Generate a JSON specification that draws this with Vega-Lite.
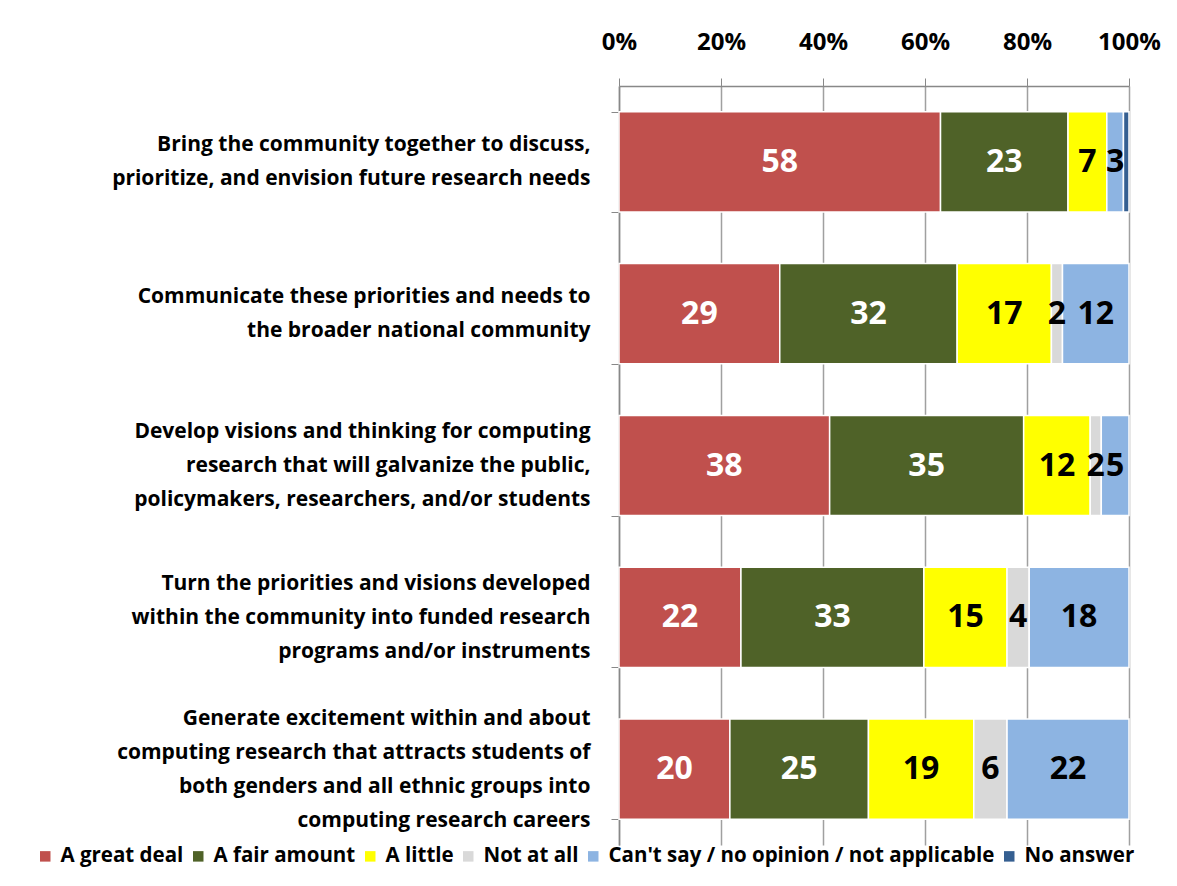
{
  "$schema": "https://vega.github.io/schema/vega-lite/v6.json",
  "autosize": "none",
  "width": 510,
  "height": 759,
  "padding": {"left": 619, "top": 86, "right": 48, "bottom": 41},
  "background": "white",
  "config": {"view": {"stroke": null}, "font": "Open Sans"},
  "data": {"values": [
    {"q": "Bring the community together to discuss,|prioritize, and envision future research needs", "resp": "A great deal", "k": 1, "value": 58},
    {"q": "Bring the community together to discuss,|prioritize, and envision future research needs", "resp": "A fair amount", "k": 2, "value": 23},
    {"q": "Bring the community together to discuss,|prioritize, and envision future research needs", "resp": "A little", "k": 3, "value": 7},
    {"q": "Bring the community together to discuss,|prioritize, and envision future research needs", "resp": "Can't say / no opinion / not applicable", "k": 5, "value": 3},
    {"q": "Bring the community together to discuss,|prioritize, and envision future research needs", "resp": "No answer", "k": 6, "value": 1},
    {"q": "Communicate these priorities and needs to|the broader national community", "resp": "A great deal", "k": 1, "value": 29},
    {"q": "Communicate these priorities and needs to|the broader national community", "resp": "A fair amount", "k": 2, "value": 32},
    {"q": "Communicate these priorities and needs to|the broader national community", "resp": "A little", "k": 3, "value": 17},
    {"q": "Communicate these priorities and needs to|the broader national community", "resp": "Not at all", "k": 4, "value": 2},
    {"q": "Communicate these priorities and needs to|the broader national community", "resp": "Can't say / no opinion / not applicable", "k": 5, "value": 12},
    {"q": "Develop visions and thinking for computing|research that will galvanize the public,|policymakers, researchers, and/or students", "resp": "A great deal", "k": 1, "value": 38},
    {"q": "Develop visions and thinking for computing|research that will galvanize the public,|policymakers, researchers, and/or students", "resp": "A fair amount", "k": 2, "value": 35},
    {"q": "Develop visions and thinking for computing|research that will galvanize the public,|policymakers, researchers, and/or students", "resp": "A little", "k": 3, "value": 12},
    {"q": "Develop visions and thinking for computing|research that will galvanize the public,|policymakers, researchers, and/or students", "resp": "Not at all", "k": 4, "value": 2},
    {"q": "Develop visions and thinking for computing|research that will galvanize the public,|policymakers, researchers, and/or students", "resp": "Can't say / no opinion / not applicable", "k": 5, "value": 5},
    {"q": "Turn the priorities and visions developed|within the community into funded research|programs and/or instruments", "resp": "A great deal", "k": 1, "value": 22},
    {"q": "Turn the priorities and visions developed|within the community into funded research|programs and/or instruments", "resp": "A fair amount", "k": 2, "value": 33},
    {"q": "Turn the priorities and visions developed|within the community into funded research|programs and/or instruments", "resp": "A little", "k": 3, "value": 15},
    {"q": "Turn the priorities and visions developed|within the community into funded research|programs and/or instruments", "resp": "Not at all", "k": 4, "value": 4},
    {"q": "Turn the priorities and visions developed|within the community into funded research|programs and/or instruments", "resp": "Can't say / no opinion / not applicable", "k": 5, "value": 18},
    {"q": "Generate excitement within and about|computing research that attracts students of|both genders and all ethnic groups into|computing research careers", "resp": "A great deal", "k": 1, "value": 20},
    {"q": "Generate excitement within and about|computing research that attracts students of|both genders and all ethnic groups into|computing research careers", "resp": "A fair amount", "k": 2, "value": 25},
    {"q": "Generate excitement within and about|computing research that attracts students of|both genders and all ethnic groups into|computing research careers", "resp": "A little", "k": 3, "value": 19},
    {"q": "Generate excitement within and about|computing research that attracts students of|both genders and all ethnic groups into|computing research careers", "resp": "Not at all", "k": 4, "value": 6},
    {"q": "Generate excitement within and about|computing research that attracts students of|both genders and all ethnic groups into|computing research careers", "resp": "Can't say / no opinion / not applicable", "k": 5, "value": 22}
  ]},
  "encoding": {
    "y": {
      "field": "q", "type": "nominal", "sort": null, "title": null,
      "scale": {"paddingInner": 0.34, "paddingOuter": 0.17},
      "axis": {
        "labelExpr": "split(datum.label, '|')",
        "labelFont": "Open Sans", "labelFontSize": 21, "labelFontWeight": "bold", "labelColor": "black",
        "labelLineHeight": 34, "labelPadding": 21, "labelLimit": 700,
        "labelOffset": {
          "condition": [
            {"test": "length(split(datum.value, '|')) == 2", "value": -17},
            {"test": "length(split(datum.value, '|')) == 3", "value": -34}
          ],
          "value": -51
        },
        "tickBand": "extent", "tickSize": 8, "tickColor": "#888888", "domainColor": "#888888", "domainWidth": 1.5
      }
    }
  },
  "layer": [
    {
      "mark": {"type": "bar", "stroke": "white", "strokeWidth": 1.5},
      "encoding": {
        "x": {
          "field": "value", "type": "quantitative", "stack": "normalize", "title": null,
          "scale": {"domain": [0, 1], "nice": false},
          "axis": {
            "orient": "top", "format": ".0%", "values": [0, 0.2, 0.4, 0.6, 0.8, 1],
            "labelFont": "Open Sans", "labelFontSize": 24, "labelFontWeight": "bold", "labelColor": "black",
            "labelPadding": 24, "tickSize": 8, "tickColor": "#888888", "domainColor": "#888888", "domainWidth": 1.5,
            "grid": true, "gridColor": "#a0a0a0", "gridWidth": 1.5, "labelFlush": false
          }
        },
        "color": {
          "field": "resp", "type": "nominal", "title": null,
          "scale": {
            "domain": ["A great deal", "A fair amount", "A little", "Not at all", "Can't say / no opinion / not applicable", "No answer"],
            "range": ["#C0504D", "#4F6228", "#FFFF00", "#D9D9D9", "#8DB4E2", "#355F91"]
          },
          "legend": {
            "orient": "none", "legendX": -584, "legendY": 760, "direction": "horizontal", "columns": 6,
            "symbolType": "square", "symbolSize": 110, "symbolStrokeWidth": 0,
            "labelFont": "Open Sans", "labelFontSize": 20.5, "labelFontWeight": "bold", "labelColor": "black",
            "labelLimit": 600, "columnPadding": 4, "labelOffset": 5
          }
        },
        "order": {"field": "k", "type": "quantitative"}
      }
    },
    {
      "mark": {"type": "text", "font": "Open Sans", "fontSize": 32, "fontWeight": "bold", "baseline": "middle", "align": "center"},
      "encoding": {
        "x": {"field": "value", "type": "quantitative", "stack": "normalize", "bandPosition": 0.5},
        "detail": {"field": "resp"},
        "order": {"field": "k", "type": "quantitative"},
        "text": {"condition": {"test": "datum.value < 2", "value": ""}, "field": "value", "type": "quantitative"},
        "color": {"condition": {"test": "datum.k <= 2", "value": "white"}, "value": "black"}
      }
    }
  ]
}
